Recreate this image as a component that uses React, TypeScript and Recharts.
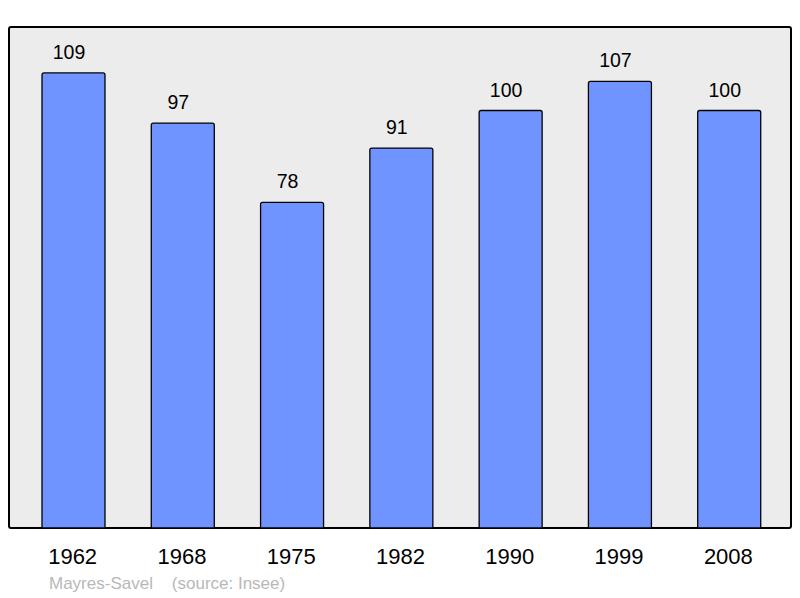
import React from 'react';
import { BarChart, Bar, XAxis, YAxis, LabelList } from 'recharts';

const years = ['1962', '1968', '1975', '1982', '1990', '1999', '2008'];
const population = [109, 97, 78, 91, 100, 107, 100];

const data = years.map((year, i) => ({ year, population: population[i] }));

const font = '"Liberation Sans", Arial, sans-serif';

const YearTick = (props: any) => {
    const { x, y, payload } = props;
    return (
        <text x={x - 1} y={y + 36} textAnchor="middle" fontSize={22} fill="#000" fontFamily={font}>
            {payload.value}
        </text>
    );
};

const ValueLabel = (props: any) => {
    const { x, y, width, value } = props;
    return (
        <text x={x + width / 2 - 4.5} y={y - 14} textAnchor="middle" fontSize={19.5} fill="#000" fontFamily={font}>
            {value}
        </text>
    );
};

export default function App() {
    return (
        <div style={{ position: 'absolute', left: 0, top: 0, width: 800, height: 598, background: '#fff', fontFamily: font }}>
            <div
                style={{
                    position: 'absolute',
                    left: 8,
                    top: 26,
                    width: 784,
                    height: 503,
                    boxSizing: 'border-box',
                    border: '2px solid #000',
                    borderRadius: 3,
                    background: '#ececec',
                }}
            />
            <div style={{ position: 'absolute', left: 0, top: 0 }}>
                <BarChart width={800} height={598} data={data} margin={{ top: 27, right: 9, left: 9, bottom: 40 }}>
                    <XAxis
                        dataKey="year"
                        height={30}
                        axisLine={false}
                        tickLine={false}
                        tickSize={0}
                        tickMargin={0}
                        padding={{ left: 10, right: 7 }}
                        tick={<YearTick />}
                        interval={0}
                    />
                    <YAxis hide domain={[0, 120]} />
                    <Bar
                        dataKey="population"
                        fill="#7094ff"
                        stroke="#000"
                        strokeWidth={1.3}
                        barSize={63}
                        radius={[2, 2, 0, 0]}
                        isAnimationActive={false}
                    >
                        <LabelList dataKey="population" content={<ValueLabel />} />
                    </Bar>
                </BarChart>
            </div>
            <div style={{ position: 'absolute', left: 49, top: 574, fontSize: 17, color: '#b8b8b8', whiteSpace: 'pre' }}>
                {'Mayres-Savel    (source: Insee)'}
            </div>
        </div>
    );
}
